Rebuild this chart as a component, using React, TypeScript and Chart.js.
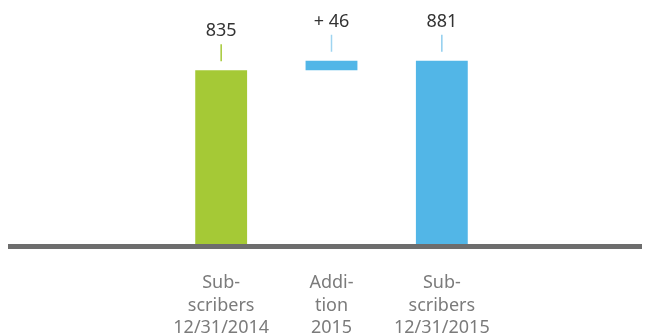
import React, { useEffect, useRef } from "react";
import { Chart, registerables } from "chart.js";

Chart.register(...registerables);

const categories: string[][] = [
  ["Sub-", "scribers", "12/31/2014"],
  ["Addi-", "tion", "2015"],
  ["Sub-", "scribers", "12/31/2015"],
];
const barStarts: number[] = [0, 835, 0];
const barEnds: number[] = [835, 881, 881];
const valueLabels: string[] = ["835", "+ 46", "881"];
const barColors: string[] = ["#a5c936", "#52b6e7", "#52b6e7"];
const markerColors: string[] = ["#a5c936", "#9fd4f0", "#8fcdee"];

const FONT = "'Noto Sans', 'Open Sans', sans-serif";

const baselinePlugin = {
  id: "baseline",
  afterDatasetsDraw(chart: any) {
    const ctx = chart.ctx;
    const y = chart.scales.y.getPixelForValue(0);
    ctx.save();
    ctx.fillStyle = "#6d6d6d";
    ctx.fillRect(0, Math.round(y), chart.width, 5);
    ctx.restore();
  },
};

const labelPlugin = {
  id: "valueLabels",
  afterDatasetsDraw(chart: any) {
    const ctx = chart.ctx;
    const meta = chart.getDatasetMeta(0);
    ctx.save();
    meta.data.forEach((el: any, i: number) => {
      const top = Math.min(el.y, el.base);
      const x = el.x;
      ctx.strokeStyle = markerColors[i];
      ctx.lineWidth = 1.5;
      ctx.beginPath();
      ctx.moveTo(x, top - 26);
      ctx.lineTo(x, top - 9);
      ctx.stroke();
      ctx.fillStyle = "#333333";
      ctx.font = `18px ${FONT}`;
      ctx.textAlign = "center";
      ctx.textBaseline = "alphabetic";
      ctx.fillText(valueLabels[i], x, top - 34);
    });
    ctx.restore();
  },
};

export default function App() {
  const canvasRef = useRef<HTMLCanvasElement | null>(null);

  useEffect(() => {
    document.body.style.overflow = "hidden";
    const canvas = canvasRef.current;
    if (!canvas) return;
    const chart = new Chart(canvas, {
      type: "bar",
      data: {
        labels: categories,
        datasets: [
          {
            data: barStarts.map((s, i) => [s, barEnds[i]]) as any,
            backgroundColor: barColors,
            borderWidth: 0,
            categoryPercentage: 1,
            barPercentage: 0.47,
          },
        ],
      },
      options: {
        animation: false,
        responsive: true,
        maintainAspectRatio: false,
        layout: { padding: { left: 158, right: 153, top: 28, bottom: 0 } },
        plugins: {
          legend: { display: false },
          tooltip: { enabled: false },
        },
        scales: {
          x: {
            grid: { display: false, drawTicks: false },
            border: { display: false },
            ticks: {
              color: "#7b7b7b",
              font: { family: FONT, size: 18, lineHeight: 1.24 },
              padding: 28,
              autoSkip: false,
              maxRotation: 0,
            },
            afterFit(scale: any) {
              scale.height = 91;
            },
          },
          y: {
            display: false,
            min: 0,
            max: 1000,
          },
        },
      },
      plugins: [baselinePlugin, labelPlugin],
    });
    return () => chart.destroy();
  }, []);

  return (
    <div style={{ position: "relative", width: "642px", height: "327px" }}>
      <canvas ref={canvasRef} />
    </div>
  );
}
